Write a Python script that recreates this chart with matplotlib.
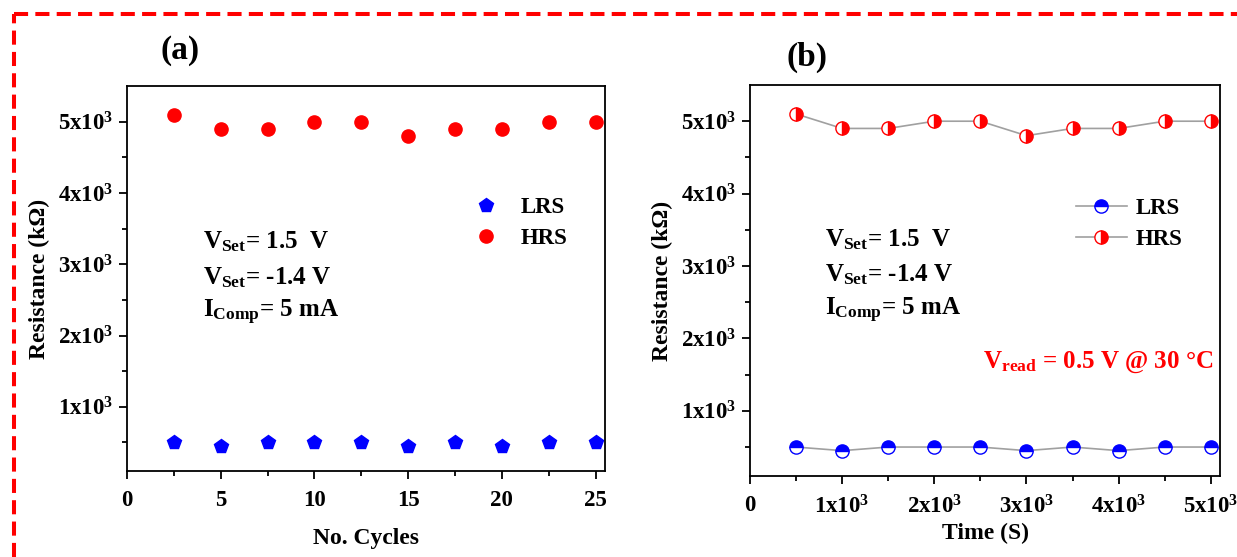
import matplotlib
matplotlib.use("Agg")
import matplotlib.pyplot as plt
from matplotlib.lines import Line2D
import numpy as np

plt.rcParams["font.family"] = ["Liberation Serif", "DejaVu Serif"]
plt.rcParams["font.weight"] = "bold"
plt.rcParams["mathtext.fontset"] = "custom"
plt.rcParams["mathtext.rm"] = "Liberation Serif:bold"
plt.rcParams["mathtext.bf"] = "Liberation Serif:bold"
plt.rcParams["mathtext.it"] = "Liberation Serif:bold"

# data
cycles = [2.5, 5, 7.5, 10, 12.5, 15, 17.5, 20, 22.5, 25]
times = [500, 1000, 1500, 2000, 2500, 3000, 3500, 4000, 4500, 5000]
hrs = [5100, 4900, 4900, 5000, 5000, 4800, 4900, 4900, 5000, 5000]
lrs = [500, 450, 500, 500, 500, 450, 500, 450, 500, 500]

y_ticks = [1000, 2000, 3000, 4000, 5000]
y_labels = [r"1x10$^{3}$", r"2x10$^{3}$", r"3x10$^{3}$", r"4x10$^{3}$", r"5x10$^{3}$"]
t_ticks = [0, 1000, 2000, 3000, 4000, 5000]
t_labels = ["0", r"1x10$^{3}$", r"2x10$^{3}$", r"3x10$^{3}$", r"4x10$^{3}$", r"5x10$^{3}$"]
c_ticks = [0, 5, 10, 15, 20, 25]

cond_lines = [r"V$_{\mathrm{Set}}$= 1.5  V",
              r"V$_{\mathrm{Set}}$= -1.4 V",
              r"I$_{\mathrm{Comp}}$= 5 mA"]
read_note = "V$_{\\mathrm{read}}$ = 0.5 V @ 30 \u00b0C"

W, H = 1237, 557
fig = plt.figure(figsize=(W / 100, H / 100), dpi=100)


def px_axes(x0, y0, x1, y1):
    return fig.add_axes([x0 / W, 1 - y1 / H, (x1 - x0) / W, (y1 - y0) / H])


def style(ax):
    for s in ax.spines.values():
        s.set_linewidth(1.3)
    ax.tick_params(which="both", direction="out", top=False, right=False,
                   labelsize=16.5, width=1.3)
    ax.tick_params(which="major", length=6)
    ax.tick_params(which="minor", length=3.5)
    ax.tick_params(axis="x", pad=8)
    ax.set_ylim(100, 5500)
    ax.set_yticks(y_ticks)
    ax.set_yticklabels(y_labels)
    ax.set_yticks(np.arange(500, 5500, 500), minor=True)
    ax.set_ylabel("Resistance (k\u03a9)", fontsize=17, fontweight="bold", labelpad=6)


# (a) endurance
ax1 = px_axes(127, 86, 605, 471)
style(ax1)
ax1.plot(cycles, lrs, ls="none", marker="p", ms=10.5, color="#0000ff", label="LRS")
ax1.plot(cycles, hrs, ls="none", marker="o", ms=9.5, color="#ff0000", label="HRS")
ax1.set_xlim(0, 25.5)
ax1.set_xticks(c_ticks)
ax1.set_xticks(np.arange(2.5, 25.1, 5), minor=True)
ax1.set_xlabel("No. Cycles", fontsize=17, fontweight="bold", labelpad=12)
ax1.legend(loc="upper left", bbox_to_anchor=(0.66, 0.765), frameon=False,
           fontsize=16.5, handletextpad=0.5, labelspacing=0.45)
for i, t in enumerate(cond_lines):
    ax1.text(0.16, 0.595 - i * 0.092, t, transform=ax1.transAxes, fontsize=18,
             va="center", ha="left")

# (b) retention
ax2 = px_axes(750, 85, 1220, 476)
style(ax2)
ax2.plot(times, lrs, color="#a0a0a0", lw=1.2, marker="o", ms=9.5,
         fillstyle="top", markerfacecolor="#0000ff", markerfacecoloralt="white",
         markeredgecolor="#0000ff", markeredgewidth=1.0, label="LRS")
ax2.plot(times, hrs, color="#a0a0a0", lw=1.2, marker="o", ms=9.5,
         fillstyle="right", markerfacecolor="#ff0000", markerfacecoloralt="white",
         markeredgecolor="#ff0000", markeredgewidth=1.0, label="HRS")
ax2.set_xlim(0, 5100)
ax2.set_xticks(t_ticks)
ax2.set_xticklabels(t_labels)
ax2.set_xticks(np.arange(500, 5001, 1000), minor=True)
ax2.set_xlabel("Time (S)", fontsize=17, fontweight="bold", labelpad=3)
ax2.legend(loc="upper left", bbox_to_anchor=(0.65, 0.765), frameon=False,
           fontsize=16.5, handletextpad=0.4, handlelength=2.2, labelspacing=0.45)
for i, t in enumerate(cond_lines):
    ax2.text(0.16, 0.605 - i * 0.091, t, transform=ax2.transAxes, fontsize=18,
             va="center", ha="left")
ax2.text(0.985, 0.29, read_note, transform=ax2.transAxes, fontsize=18,
         color="#ff0000", va="center", ha="right")

fig.text(180 / W, 1 - 51 / H, "(a)", fontsize=24, fontweight="bold", ha="center", va="center")
fig.text(807 / W, 1 - 57 / H, "(b)", fontsize=24, fontweight="bold", ha="center", va="center")

# red dashed frame along top and left edges
frame_kw = dict(color="#ff0000", lw=2.9, dashes=(3.5, 1.8), transform=fig.transFigure)
fig.add_artist(Line2D([14 / W, 1.0], [1 - 14 / H, 1 - 14 / H], **frame_kw))
fig.add_artist(Line2D([14 / W, 14 / W], [0.0, 1 - 14 / H], **frame_kw))

fig.savefig("out.png", dpi=100)
